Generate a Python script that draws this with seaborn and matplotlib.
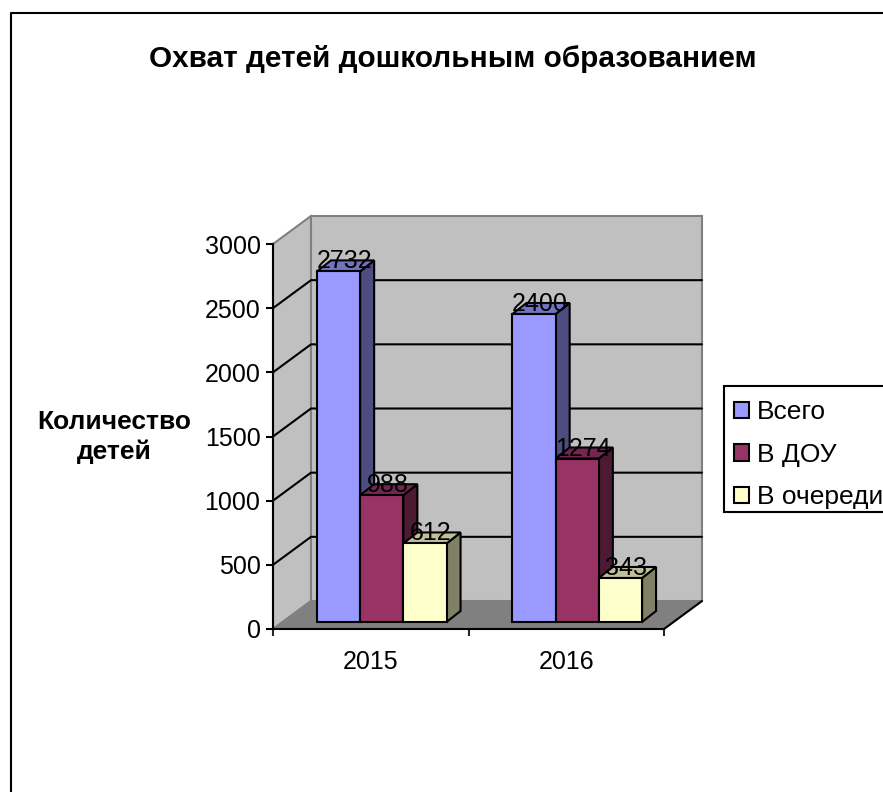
import matplotlib
matplotlib.use("Agg")
import matplotlib.pyplot as plt
from matplotlib.patches import Polygon, Rectangle
import pandas as pd
import seaborn as sns

# данные с картинки
years = ["2015", "2016"]
series_names = ["Всего", "В ДОУ", "В очереди"]
vsego = [2732, 2400]
v_dou = [988, 1274]
v_ocheredi = [612, 343]
y_ticks = [0, 500, 1000, 1500, 2000, 2500, 3000]

front = ["#9999FF", "#993366", "#FFFFCC"]
side = ["#4D4D80", "#4D1A33", "#808066"]
top = ["#7373BF", "#732650", "#BFBF99"]

W, H = 883, 792
LW = 1.5
sns.set_theme(style="white")
plt.rcParams["font.family"] = ["Liberation Sans", "DejaVu Sans"]

rows = []
for name, vals in zip(series_names, [vsego, v_dou, v_ocheredi]):
    for y, v in zip(years, vals):
        rows.append({"year": y, "series": name, "value": v})
df = pd.DataFrame(rows)

fig = plt.figure(figsize=(W / 100, H / 100), dpi=100, facecolor="white")


def axes_px(left, top_px, right, bottom):
    return [left / W, 1 - bottom / H, (right - left) / W, (bottom - top_px) / H]


# фон: рамка, стенки и пол в пикселях
deco = fig.add_axes([0, 0, 1, 1], zorder=0)
deco.set_xlim(0, W)
deco.set_ylim(H, 0)
deco.set_axis_off()
deco.plot([10.5, 10.5, W], [H, 12.5, 12.5], color="black", lw=LW, clip_on=False)
deco.add_patch(Rectangle((724, 386), 200, 126, fc="white", ec="black", lw=LW, clip_on=True))

fx0, fx1, fy0, fy1 = 273, 664, 629, 244
ddx, ddy = 38, 28
deco.add_patch(Polygon([(fx0, fy0), (fx0 + ddx, fy0 - ddy), (fx0 + ddx, fy1 - ddy), (fx0, fy1)],
                       fc="#C0C0C0", ec="#808080", lw=LW))
deco.add_patch(Polygon([(fx0 + ddx, fy0 - ddy), (fx1 + ddx, fy0 - ddy), (fx1 + ddx, fy1 - ddy), (fx0 + ddx, fy1 - ddy)],
                       fc="#C0C0C0", ec="#808080", lw=LW))
deco.add_patch(Polygon([(fx0, fy0), (fx1, fy0), (fx1 + ddx, fy0 - ddy), (fx0 + ddx, fy0 - ddy)],
                       fc="#808080", ec="#808080", lw=1))
for t in y_ticks[1:-1]:
    yy = fy0 - t * (fy0 - fy1) / 3000
    deco.plot([fx0, fx0 + ddx, fx1 + ddx], [yy, yy - ddy, yy - ddy], color="black", lw=LW)
deco.plot([fx1, fx1 + ddx], [fy0, fy0 - ddy], color="black", lw=LW)

# передняя плоскость: только оси и подписи
ax = fig.add_axes(axes_px(fx0, fy1, fx1, fy0), zorder=1)
ax.patch.set_visible(False)
ax.set_xlim(-0.5, 1.5)
ax.set_ylim(0, 3000)
for s in ["top", "right"]:
    ax.spines[s].set_visible(False)
for s in ["left", "bottom"]:
    ax.spines[s].set_color("black")
    ax.spines[s].set_linewidth(LW)
ax.set_yticks(y_ticks)
ax.set_xticks([-0.5, 0.5, 1.5])
ax.set_xticklabels([])
ax.set_xticks([0, 1], minor=True)
ax.set_xticklabels(years, minor=True)
ax.tick_params(axis="y", which="major", length=5, width=LW, left=True, labelsize=18, pad=4, colors="black")
ax.tick_params(axis="x", which="major", length=5, width=LW, bottom=True)
ax.tick_params(axis="x", which="minor", length=0, labelsize=18, pad=15, colors="black")
ax.set_ylabel("Количество\nдетей", rotation=0, fontsize=19, fontweight="bold", color="black",
              ha="center", va="center", multialignment="center", linespacing=1.32)
ax.yaxis.set_label_coords((114 - fx0) / (fx1 - fx0), (fy0 - 437) / (fy0 - fy1))
ax.set_xlabel("")

# столбцы: та же шкала, сдвиг в глубину
ax_bars = fig.add_axes(axes_px(fx0 + 11, fy1 - 7, fx1 + 11, fy0 - 7), zorder=2)
sns.barplot(data=df, x="year", y="value", hue="series", hue_order=series_names, order=years,
            palette=front, saturation=1, width=0.663, gap=0, edgecolor="black", linewidth=LW,
            errorbar=None, ax=ax_bars)
ax_bars.set_xlim(-0.5, 1.5)
ax_bars.set_ylim(0, 3000)
ax_bars.set_xlabel("")
ax_bars.set_ylabel("")
ax_bars.set_axis_off()

px_x = 2 / (fx1 - fx0)
px_y = 3000 / (fy0 - fy1)
dx = 14 * px_x
dy = 11 * px_y
z = 3
for i, cont in enumerate(ax_bars.containers):
    for bar in cont:
        x0, w, h = bar.get_x(), bar.get_width(), bar.get_height()
        x1 = x0 + w
        # base of bars sits at y=0, the depth faces go back and up
        ax_bars.add_patch(Polygon([(x1, 0), (x1 + dx, dy), (x1 + dx, h + dy), (x1, h)],
                                  fc=side[i], ec="black", lw=LW, zorder=z, clip_on=False))
        ax_bars.add_patch(Polygon([(x0, h), (x0 + dx, h + dy), (x1 + dx, h + dy), (x1, h)],
                                  fc=top[i], ec="black", lw=LW, zorder=z, clip_on=False))
        bar.set_zorder(z + 1)
        bar.set_clip_on(False)
        ax_bars.annotate(str(int(h)), (x0 + w / 2, h), xytext=(6, 10), textcoords="offset pixels",
                         ha="center", va="center", fontsize=18, color="black", zorder=30,
                         annotation_clip=False)
    z += 2

fig.text(453 / W, 1 - 59 / H, "Охват детей дошкольным образованием", fontsize=21.4, fontweight="bold",
         ha="center", va="center", color="black")

sns.move_legend(ax_bars, loc="upper left", bbox_to_anchor=(734 / W, 1 - 400 / H),
                bbox_transform=fig.transFigure, title=None, frameon=False, fontsize=19,
                labelcolor="black", borderaxespad=0, borderpad=0,
                handlelength=0.57, handleheight=0.57, handletextpad=0.3, labelspacing=0.71)
ax_bars.get_legend().set_zorder(40)

fig.savefig("out.png", dpi=100)
